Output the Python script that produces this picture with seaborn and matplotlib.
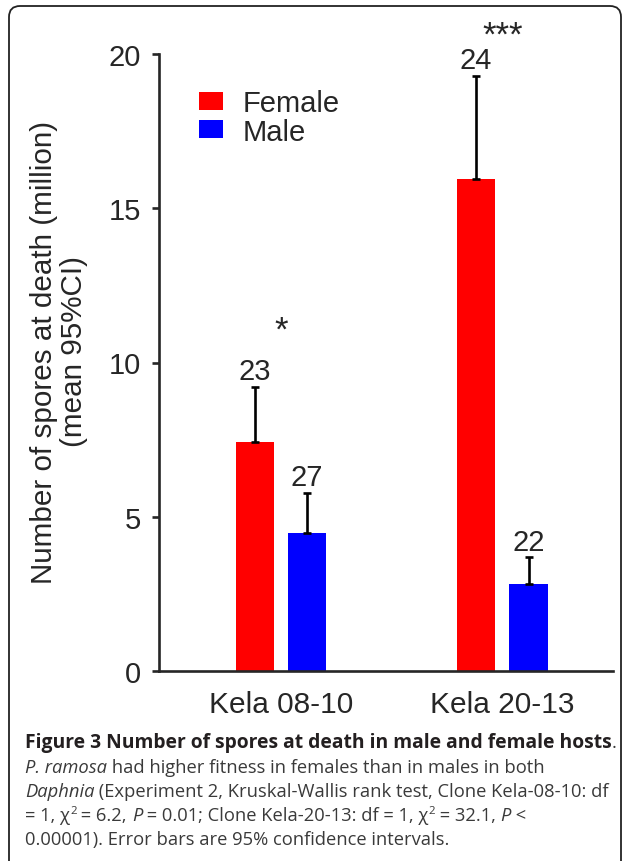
import numpy as np
import pandas as pd
import matplotlib
matplotlib.use("Agg")
import matplotlib.pyplot as plt
import seaborn as sns
from matplotlib.patches import FancyBboxPatch

# values
clones = ["Kela 08-10", "Kela 20-13"]
sexes = ["Female", "Male"]
female_mean = [7.42, 15.95]
male_mean = [4.47, 2.82]
female_upper = [9.21, 19.29]
male_upper = [5.77, 3.69]
female_n = [23, 24]
male_n = [27, 22]
stars = ["*", "***"]
star_y = [10.75, 20.3]

df = pd.DataFrame({
    "clone": clones * 2,
    "sex": ["Female"] * 2 + ["Male"] * 2,
    "mean": female_mean + male_mean,
    "upper": female_upper + male_upper,
    "n": female_n + male_n,
})

sns.set_style("ticks")
plt.rcParams["font.family"] = ["Liberation Sans", "DejaVu Sans"]

W, H = 627, 862
fig = plt.figure(figsize=(W / 100, H / 100), dpi=100)
ax = fig.add_axes([159 / W, 1 - 672 / H, (613 - 159) / W, (672 - 55) / H])

sns.barplot(data=df, x="clone", y="mean", hue="sex", order=clones, hue_order=sexes,
            palette={"Female": "#ff0000", "Male": "#0000ff"}, saturation=1,
            width=0.474, gap=0.27, errorbar=None, linewidth=0, ax=ax)

# upper-only error bars + sample sizes
for sex, container in zip(sexes, ax.containers):
    sub = df[df["sex"] == sex].set_index("clone").loc[clones]
    for bar, (_, row) in zip(container, sub.iterrows()):
        xc = bar.get_x() + bar.get_width() / 2
        h = bar.get_height()
        ax.errorbar(xc, h, yerr=[[0], [row["upper"] - h]], fmt="none",
                    ecolor="black", elinewidth=1.9, capsize=3, capthick=1.9, zorder=3)
        ax.annotate(str(row["n"]), xy=(xc, row["upper"]), xytext=(0, 5.5),
                    textcoords="offset points", ha="center", va="baseline", fontsize=21)

for i, s in enumerate(stars):
    ax.text(i, star_y[i], s, ha="center", va="baseline", fontsize=25, clip_on=False)

ax.set_xlim(-0.551, 1.5)
ax.set_ylim(0, 20)
ax.set_yticks([0, 5, 10, 15, 20])
ax.set_xlabel("")
ax.set_ylabel("")
sns.despine(ax=ax)
for sp in ["left", "bottom"]:
    ax.spines[sp].set_linewidth(1.9)
ax.tick_params(axis="y", length=5, width=1.9, pad=8, labelsize=21, direction="out")
ax.tick_params(axis="x", length=0, pad=14, labelsize=21.5)

handles, labels = ax.get_legend_handles_labels()
ax.legend(handles, labels, loc="upper left", bbox_to_anchor=(199 / W, 1 - 90 / H),
          bbox_transform=fig.transFigure, frameon=False, fontsize=21,
          handlelength=0.82, handleheight=0.58, handletextpad=0.66,
          labelspacing=0.02, borderpad=0, borderaxespad=0)

fig.text(59 / W, 1 - 352 / H, "Number of spores at death (million)\n(mean 95%CI)",
         rotation=90, ha="center", va="center", multialignment="center",
         fontsize=21.3, linespacing=1.12)

# border box (open at the bottom)
box = FancyBboxPatch((9, -60), 612, H - 7 + 60, boxstyle="round,pad=0,rounding_size=11",
                     transform=None, fill=False, edgecolor="#222222", linewidth=1.3)
fig.add_artist(box)

# caption drawn run by run
renderer = fig.canvas.get_renderer()
cap_fam = ["Open Sans", "DejaVu Sans"]
cap_size = 13.2
dark = "#231f20"
grey = "#3a3a3a"


def text_width(s, **kw):
    a = fig.text(0, 0, "|" + s + "|", **kw)
    b = fig.text(0, 0, "||", **kw)
    w = a.get_window_extent(renderer).width - b.get_window_extent(renderer).width
    a.remove()
    b.remove()
    return w


def draw_line(y_px, runs):
    x = 25
    for s, style in runs:
        kw = dict(family=cap_fam, fontsize=cap_size, color=grey)
        dy = 0
        if style == "b":
            kw.update(weight="bold", color=dark, fontsize=cap_size * 1.05)
        elif style == "i":
            kw.update(style="italic")
        elif style == "sup":
            kw.update(fontsize=cap_size * 0.62)
            dy = 7
        fig.text(x / W, 1 - (y_px - dy) / H, s, va="baseline", ha="left", **kw)
        x += text_width(s, **kw)


draw_line(748, [("Figure 3 Number of spores at death in male and female hosts", "b"), (".", "r")])
draw_line(773, [("P. ramosa", "i"), (" had higher fitness in females than in males in both", "r")])
draw_line(797, [("Daphnia", "i"), (" (Experiment 2, Kruskal-Wallis rank test, Clone Kela-08-10: df", "r")])
draw_line(821, [("= 1, χ", "r"), ("2", "sup"), (" = 6.2, ", "r"), ("P", "i"),
                (" = 0.01; Clone Kela-20-13: df = 1, χ", "r"), ("2", "sup"),
                (" = 32.1, ", "r"), ("P", "i"), (" <", "r")])
draw_line(845, [("0.00001). Error bars are 95% confidence intervals.", "r")])

fig.savefig("out.png", dpi=100)
